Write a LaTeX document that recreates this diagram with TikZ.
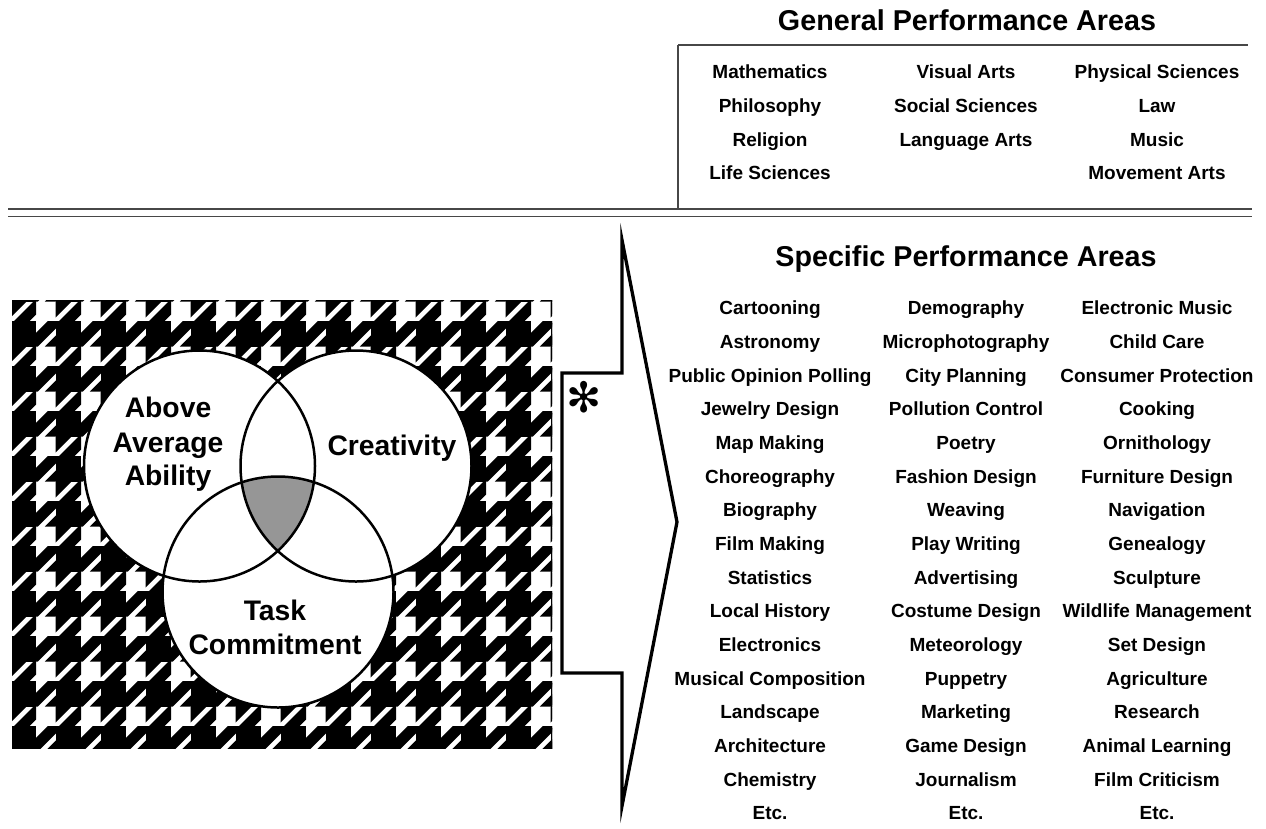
\documentclass[tikz,border=0pt]{standalone}
\usepackage{fontspec}
\setmainfont{Liberation Sans}
\newfontfamily\symfont{DejaVu Sans}
\begin{document}
\begin{tikzpicture}[x=1pt,y=-1pt,
  item/.style={font=\fontsize{19}{19}\selectfont\bfseries, anchor=base, inner sep=0pt},
  heading/.style={font=\fontsize{28.7}{28.7}\selectfont\bfseries, anchor=base, inner sep=0pt},
  clabel/.style={font=\fontsize{28.3}{28.3}\selectfont\bfseries, anchor=base, inner sep=0pt, align=center},
  ring/.style={circle, inner sep=0pt, minimum size=231pt},
  rule/.style={line width=1.3pt, draw=black!72},
  tooth/.style={fill=black, draw=black, line width=3pt, line join=miter}]
\path[use as bounding box] (0,0) rectangle (1266,828);

% ---------- houndstooth background ----------
\begin{scope}
  \clip (12,300) rectangle (552,748);
  \foreach \i in {-1,...,12}{
    \foreach \j in {-1,...,10}{
      \begin{scope}[shift={({12+45*\i},{277.5+45*\j})}, scale=5.625]
        \filldraw[tooth] (0,0) rectangle (4,4);
        \filldraw[tooth] (4,2.5) -- (6.5,0) -- (8,0) -- (8,0.5) -- (4.5,4) -- (4,4) -- cycle;
        \filldraw[tooth] (8,2.5) -- (8,4) -- (6.5,4) -- cycle;
        \filldraw[tooth] (0.5,4) -- (2.5,4) -- (0,6.5) -- (0,4.5) -- cycle;
        \filldraw[tooth] (4,4.5) -- (4,6.5) -- (2.5,8) -- (0.5,8) -- cycle;
      \end{scope}
    }
  }
\end{scope}

% ---------- Venn circles ----------
\coordinate (cA) at (199.5,466);
\coordinate (cC) at (356,466);
\coordinate (cT) at (278,592);
\fill[white] (cA) circle (115.5);
\fill[white] (cC) circle (115.5);
\fill[white] (cT) circle (115.5);
\begin{scope}
  \clip (cA) circle (115.5);
  \clip (cC) circle (115.5);
  \fill[black!41] (cT) circle (115.5);
\end{scope}
\node[ring, draw, line width=2.5pt] (A) at (cA) {};
\node[ring, draw, line width=2.5pt] (C) at (cC) {};
\node[ring, draw, line width=2.5pt] (T) at (cT) {};

\node[clabel] (lab1) at (168,417) {Above};
\node[clabel] (lab2) at (168,452) {Average};
\node[clabel] (lab3) at (168,485) {Ability};
\node[clabel] (lab4) at (392,455) {Creativity};
\node[clabel] (lab5) at (275,620) {Task};
\node[clabel] (lab6) at (275,654) {Commitment};

% ---------- arrow shape ----------
\draw[line width=3.3pt, line join=miter, miter limit=20]
  (622,240) -- (677,522) -- (622,806) -- (622,673) -- (562,673) -- (562,373) -- (622,373) -- cycle;
\node[font=\symfont\fontsize{42}{42}\selectfont, inner sep=0pt] (ast) at (584,397) {✻};

% ---------- rules ----------
\draw[rule] (8,209) -- (1252,209);
\draw[rule] (8,216.5) -- (1252,216.5);
\draw[rule] (678,45) -- (1248,45);
\draw[rule] (678,45) -- (678,209);

% ---------- headings ----------
\node[heading] (gen) at (967,30) {General Performance Areas};
\node[heading] (spec) at (966,266) {Specific Performance Areas};

% ---------- general areas ----------
\foreach \t [count=\k] in {Mathematics, Philosophy, Religion, Life Sciences}
  \node[item] (ga\k) at (770,{78.8+33.67*(\k-1)}) {\t};
\foreach \t [count=\k] in {Visual Arts, Social Sciences, Language Arts}
  \node[item] (gb\k) at (966,{78.8+33.67*(\k-1)}) {\t};
\foreach \t [count=\k] in {Physical Sciences, Law, Music, Movement Arts}
  \node[item] (gc\k) at (1157,{78.8+33.67*(\k-1)}) {\t};

% ---------- specific areas ----------
\foreach \t [count=\k] in {Cartooning, Astronomy, Public Opinion Polling, Jewelry Design, Map Making, Choreography, Biography, Film Making, Statistics, Local History, Electronics, Musical Composition, Landscape, Architecture, Chemistry, Etc.}
  \node[item] (sa\k) at (770,{314.8+33.67*(\k-1)}) {\t};
\foreach \t [count=\k] in {Demography, Microphotography, City Planning, Pollution Control, Poetry, Fashion Design, Weaving, Play Writing, Advertising, Costume Design, Meteorology, Puppetry, Marketing, Game Design, Journalism, Etc.}
  \node[item] (sb\k) at (966,{314.8+33.67*(\k-1)}) {\t};
\foreach \t [count=\k] in {Electronic Music, Child Care, Consumer Protection, Cooking, Ornithology, Furniture Design, Navigation, Genealogy, Sculpture, Wildlife Management, Set Design, Agriculture, Research, Animal Learning, Film Criticism, Etc.}
  \node[item] (sc\k) at (1157,{314.8+33.67*(\k-1)}) {\t};
\end{tikzpicture}
\end{document}
